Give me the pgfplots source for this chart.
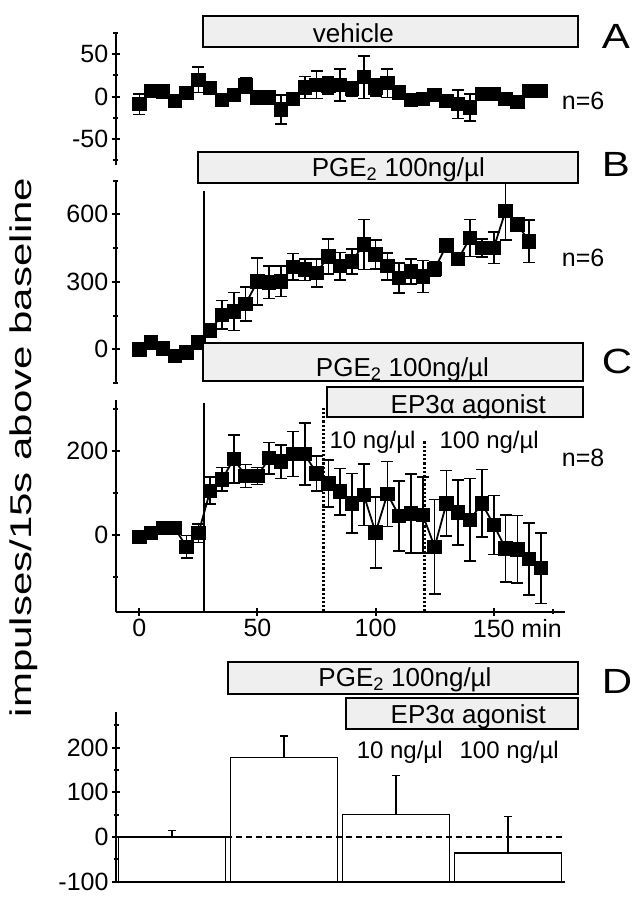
\documentclass[border=0pt]{standalone}
\usepackage{pgfplots}
\pgfplotsset{compat=1.18}
\usepackage{pgfplotstable}
\usepackage{fontspec}
\setmainfont{Liberation Sans}
\usepackage{graphicx}
\definecolor{boxgray}{HTML}{EFEFEF}

\pgfplotstableread{
x y e
0 -9 12
5 7 5
10 6 4
15 -5 5
20 4 6
25 20 15
30 10 6
35 -4 5
40 2 5
45 13 9
50 -1 4
55 -1 4
60 -15 17
65 -3 5
70 11 13
75 14 16
80 13 10
85 14 19
90 9 8
95 23 25
100 11 10
105 16 17
110 5 5
115 -4 4
120 -3 4
125 2 4
130 -5 4
135 -9 17
140 -13 16
145 3 4
150 3 4
155 -3 4
160 -6 4
165 7 4
170 7 4
}\dataA

\pgfplotstableread{
x y e
0 0 10
5 30 10
10 4 10
15 -30 10
20 -15 10
25 30 10
30 83 15
35 153 64
40 168 85
45 202 75
50 302 104
55 297 72
60 302 67
65 366 59
70 354 48
75 339 63
80 413 78
85 369 62
90 391 55
95 466 111
100 421 64
105 369 60
110 317 67
115 346 56
120 324 71
125 357 34
130 461 10
135 402 10
140 495 82
145 451 40
150 451 70
155 614 127
160 555 10
165 480 94
}\dataB

\pgfplotstableread{
x y e
0 -5 10
5 4 10
10 16 10
15 16 10
20 -28 27
25 4 22
30 105 32
35 132 28
40 180 57
45 140 27
50 140 20
55 182 37
60 174 40
65 192 53
70 192 74
75 146 42
80 122 56
85 103 55
90 75 71
95 95 73
100 6 84
105 97 77
110 45 83
115 51 94
120 47 90
125 -28 112
130 75 78
135 53 77
140 36 98
145 75 80
150 24 70
155 -32 79
160 -34 80
165 -57 85
170 -79 84
}\dataC

\pgfplotsset{
  panel/.style={anchor=south west, scale only axis, width=448.9pt, xmin=-10, xmax=180, clip=false,
    tick style={line width=2pt, black},
    major tick length=8pt, minor tick length=5pt, tick align=outside,
    tick label style={font=\fontsize{25}{25}\selectfont},
  },
  noarrow/.style={axis line style={-, line width=2.2pt, black},
    every outer x axis line/.append style={-}, every outer y axis line/.append style={-},
    every inner x axis line/.append style={-}, every inner y axis line/.append style={-}},
  series/.style={black, line width=1.8pt, mark=square*, mark size=6.3pt, mark options={solid, fill=black},
    error bars/y dir=both, error bars/y explicit,
    error bars/error bar style={line width=1.6pt, black, solid},
    error bars/error mark options={rotate=90, mark size=6pt, line width=1.6pt, black}},
}

\begin{document}
\begin{tikzpicture}
\path[use as bounding box] (0pt,0pt) rectangle (642pt,899pt);

% Panel A
\begin{axis}[panel, at={(115.7pt,733.7pt)}, height=133pt, ymin=-81, ymax=76,
  axis x line=none, axis y line=left, noarrow,
  ytick={-50,0,50}, yticklabels={-50,0,50}, minor ytick={-75,-25,25,75}]
\addplot[series] table[x=x, y=y, y error=e] {\dataA};
\end{axis}

% Panel B
\begin{axis}[panel, at={(115.7pt,514.8pt)}, height=204.1pt, ymin=-155, ymax=752,
  axis x line=none, axis y line=left, noarrow,
  ytick={0,300,600}, yticklabels={0,300,600}, minor ytick={-150,150,450,750}]
\draw[line width=1.5pt] (axis cs:27.4,85) -- (axis cs:27.4,705);
\addplot[series] table[x=x, y=y, y error=e] {\dataB};
\end{axis}

% Panel C
\begin{axis}[panel, at={(115.7pt,287.3pt)}, height=211.2pt, ymin=-182, ymax=319,
  axis lines=left, noarrow,
  ytick={0,200}, yticklabels={0,200}, minor ytick={-100,100,300},
  xtick={0,50,100,150}, xticklabels={0,50,100,150\rlap{\ min}}, minor xtick={175}]
\draw[line width=1.5pt] (axis cs:27.4,-182) -- (axis cs:27.4,313);
\draw[line width=2.6pt, dash pattern=on 2.2pt off 2pt] (axis cs:78,-182) -- (axis cs:78,301);
\draw[line width=2.6pt, dash pattern=on 2.2pt off 2pt] (axis cs:120.6,-182) -- (axis cs:120.6,225);
\addplot[series] table[x=x, y=y, y error=e] {\dataC};
\end{axis}

% Panel D
\begin{axis}[panel, at={(116pt,17.3pt)}, width=449pt, height=169.4pt, xmin=0, xmax=4.009, ymin=-100, ymax=279,
  axis lines=left, noarrow, xtick=\empty,
  ytick={-100,0,100,200}, yticklabels={-100,0,100,200}, minor ytick={-50,50,150,250}]
\addplot[draw=black, fill=white, line width=1.2pt] coordinates {(0.025,-100) (0.025,0) (0.975,0) (0.975,-100) (0.025,-100)};
\addplot[draw=black, fill=white, line width=1.2pt] coordinates {(1.025,-100) (1.025,178) (1.975,178) (1.975,-100) (1.025,-100)};
\addplot[draw=black, fill=white, line width=1.2pt] coordinates {(2.025,-100) (2.025,50) (2.975,50) (2.975,-100) (2.025,-100)};
\addplot[draw=black, fill=white, line width=1.2pt] coordinates {(3.025,-100) (3.025,-36) (3.975,-36) (3.975,-100) (3.025,-100)};
\addplot[black, line width=1.3pt, dash pattern=on 6pt off 4pt] coordinates {(0,0) (3.99,0)};
\addplot[draw=none, mark=none,
  error bars/y dir=plus, error bars/y explicit,
  error bars/error bar style={draw=black, line width=1.2pt, solid},
  error bars/error mark options={draw=black, rotate=90, mark size=3.8pt, line width=1.2pt}]
  coordinates {(0.5,0) +- (0,14) (1.5,178) +- (0,48) (2.5,50) +- (0,87) (3.5,-36) +- (0,82)};
\end{axis}

% annotation boxes
\tikzset{lbl/.style={inner sep=0pt, anchor=base, font=\fontsize{26}{26}\selectfont}}
\draw[fill=boxgray, line width=1.8pt] (203.3pt,883pt) rectangle (578.3pt,851.7pt);
\node[lbl] at (353.3pt,856.3pt) {vehicle};
\draw[fill=boxgray, line width=1.8pt] (197.7pt,747.3pt) rectangle (578.3pt,716.3pt);
\node[lbl] at (398.3pt,722.3pt) {PGE\textsubscript{2} 100ng/µl};
\draw[fill=boxgray, line width=1.8pt] (202.7pt,555.7pt) rectangle (583.3pt,518pt);
\node[lbl] at (402.5pt,522.3pt) {PGE\textsubscript{2} 100ng/µl};
\draw[fill=boxgray, line width=1.8pt] (326.7pt,512.3pt) rectangle (582.7pt,482.3pt);
\node[lbl] at (468.3pt,485.7pt) {EP3α agonist};
\draw[fill=boxgray, line width=1.8pt] (228.3pt,236.7pt) rectangle (578.3pt,204.7pt);
\node[lbl] at (405pt,212.3pt) {PGE\textsubscript{2} 100ng/µl};
\draw[fill=boxgray, line width=1.8pt] (346pt,201.3pt) rectangle (578.3pt,169.7pt);
\node[lbl] at (468.3pt,175.7pt) {EP3α agonist};

% concentration labels
\tikzset{conc/.style={inner sep=0pt, anchor=base, font=\fontsize{24}{24}\selectfont}}
\node[conc] at (372.5pt,450.7pt) {10 ng/µl};
\node[conc] at (489.2pt,450.7pt) {100 ng/µl};
\node[conc] at (399.7pt,140.7pt) {10 ng/µl};
\node[conc] at (509.2pt,140.7pt) {100 ng/µl};

% n labels
\tikzset{nl/.style={inner sep=0pt, anchor=base west, font=\fontsize{25}{25}\selectfont}}
\node[nl] at (561.7pt,789pt) {n=6};
\node[nl] at (561.7pt,632.3pt) {n=6};
\node[nl] at (561.7pt,432.3pt) {n=8};

% panel letters
\tikzset{pl/.style={inner sep=0pt, anchor=base west, font=\fontsize{35}{35}\selectfont}}
\node[pl] at (601.7pt,850.7pt) {\scalebox{1.2}[1]{A}};
\node[pl] at (601.7pt,722.3pt) {\scalebox{1.2}[1]{B}};
\node[pl] at (601.7pt,525.7pt) {\scalebox{1.2}[1]{C}};
\node[pl] at (601.7pt,205.7pt) {\scalebox{1.2}[1]{D}};

% y label
\node[rotate=90, inner sep=0pt] at (24pt,451.5pt) {\fontsize{30}{30}\selectfont\scalebox{1.4}[1]{impulses/15s above baseline}};
\end{tikzpicture}
\end{document}
